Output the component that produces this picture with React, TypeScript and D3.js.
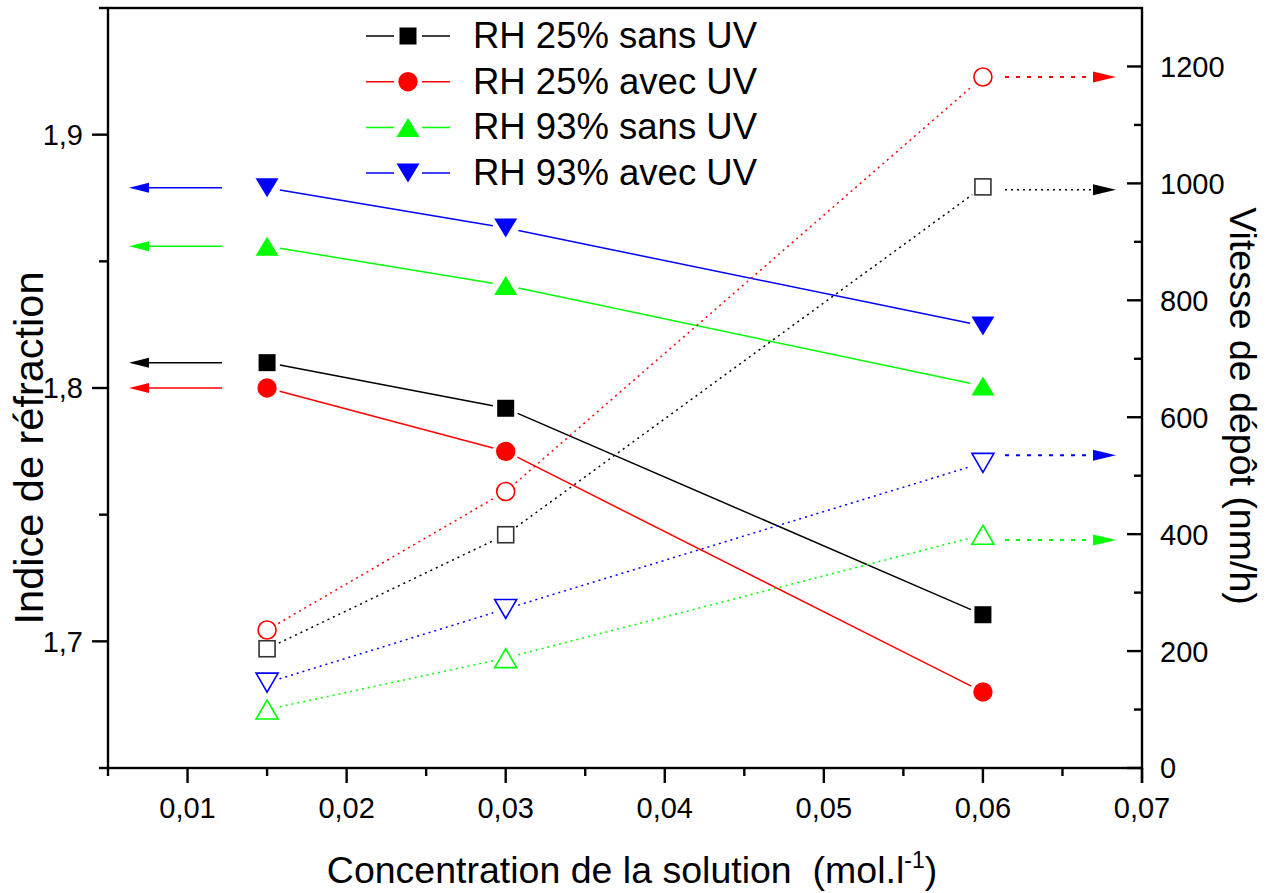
import React from "react";
import * as d3 from "d3";

const concentrations = [0.015, 0.03, 0.06];
const seriesNames = ["RH 25% sans UV", "RH 25% avec UV", "RH 93% sans UV", "RH 93% avec UV"];
const seriesColors = ["#000000", "#ff0000", "#00ff00", "#0000ff"];
const seriesShapes = ["square", "circle", "triangleUp", "triangleDown"];
// Indice de réfraction (filled markers, left axis)
const refractiveIndex = [
  [1.81, 1.792, 1.7105],
  [1.8, 1.775, 1.68],
  [1.856, 1.8405, 1.8008],
  [1.879, 1.8632, 1.8245],
];
// Vitesse de dépôt (open markers, right axis)
const depositionRate = [
  [204, 399, 994],
  [236, 473, 1182],
  [100, 188, 399],
  [146, 272, 522],
];
const rightArrowLevels = [989, 1182, 390, 535];
const rightArrowDash = ["2,4", "4,7", "4,7", "4,7"];

const xTicks = [0.01, 0.02, 0.03, 0.04, 0.05, 0.06, 0.07];
const xTickLabels = ["0,01", "0,02", "0,03", "0,04", "0,05", "0,06", "0,07"];
const xMinor = [0.005, 0.015, 0.025, 0.035, 0.045, 0.055, 0.065];
const leftTicks = [1.7, 1.8, 1.9];
const leftTickLabels = ["1,7", "1,8", "1,9"];
const leftMinor = [1.65, 1.75, 1.85, 1.95];
const rightTicks = [0, 200, 400, 600, 800, 1000, 1200];
const rightTickLabels = ["0", "200", "400", "600", "800", "1000", "1200"];
const rightMinor = [100, 300, 500, 700, 900, 1100];

const FONT = "'Liberation Sans', Arial, sans-serif";

const L = 108, R = 1142, T = 8, B = 768;
const x = d3.scaleLinear().domain([0.005, 0.07]).range([L, R]);
const yL = d3.scaleLinear().domain([1.65, 1.95]).range([B, T]);
const yR = d3.scaleLinear().domain([0, 1300]).range([B, T]);

function Marker({ shape, cx, cy, color, filled }: any) {
  const fill = filled ? color : "#fff";
  const stroke = filled ? "none" : color === "#000000" ? "#333" : color;
  const sw = 1.6;
  if (shape === "square") {
    const s = filled ? 17 : 16;
    return <rect x={cx - s / 2} y={cy - s / 2} width={s} height={s} fill={fill} stroke={stroke} strokeWidth={sw} />;
  }
  if (shape === "circle") {
    return <circle cx={cx} cy={cy} r={filled ? 9.7 : 9} fill={fill} stroke={stroke} strokeWidth={sw} />;
  }
  const hw = filled ? 11.5 : 11, hh = 9.5;
  const pts =
    shape === "triangleUp"
      ? [[cx, cy - hh], [cx + hw, cy + hh], [cx - hw, cy + hh]]
      : [[cx - hw, cy - hh], [cx + hw, cy - hh], [cx, cy + hh]];
  return <polygon points={pts.map((p) => p.join(",")).join(" ")} fill={fill} stroke={stroke} strokeWidth={sw} />;
}

function GappedLine({ pts, color, dash, gap }: any) {
  const segs = [];
  for (let i = 0; i < pts.length - 1; i++) {
    const [x1, y1] = pts[i];
    const [x2, y2] = pts[i + 1];
    const len = Math.hypot(x2 - x1, y2 - y1);
    const ux = (x2 - x1) / len, uy = (y2 - y1) / len;
    segs.push(
      <line key={i} x1={x1 + ux * gap} y1={y1 + uy * gap} x2={x2 - ux * gap} y2={y2 - uy * gap}
        stroke={color} strokeWidth={1.5} strokeDasharray={dash} />
    );
  }
  return <g>{segs}</g>;
}

export default function App() {
  const legendX = 366, legendY0 = 36, legendDy = 45.7;
  return (
    <svg width={1270} height={893} style={{ position: "absolute", left: 0, top: 0, background: "#fff" }}
      fontFamily={FONT}>
      <rect x={0} y={0} width={1270} height={893} fill="#fff" />
      {/* data lines */}
      {refractiveIndex.map((vals, si) => (
        <GappedLine key={"fl" + si} color={seriesColors[si]} gap={13}
          pts={vals.map((v, i) => [x(concentrations[i]), yL(v)])} />
      ))}
      {depositionRate.map((vals, si) => (
        <GappedLine key={"ol" + si} color={seriesColors[si]} gap={13} dash="2,4"
          pts={vals.map((v, i) => [x(concentrations[i]), yR(v)])} />
      ))}
      {/* markers */}
      {refractiveIndex.map((vals, si) =>
        vals.map((v, i) => (
          <Marker key={"fm" + si + i} shape={seriesShapes[si]} cx={x(concentrations[i])} cy={yL(v)}
            color={seriesColors[si]} filled />
        ))
      )}
      {depositionRate.map((vals, si) =>
        vals.map((v, i) => (
          <Marker key={"om" + si + i} shape={seriesShapes[si]} cx={x(concentrations[i])} cy={yR(v)}
            color={seriesColors[si]} filled={false} />
        ))
      )}
      {/* left arrows */}
      {refractiveIndex.map((vals, si) => {
        const yy = yL(vals[0]);
        return (
          <g key={"la" + si}>
            <line x1={222} y1={yy} x2={148} y2={yy} stroke={seriesColors[si]} strokeWidth={1.5} />
            <polygon points={`129,${yy} 149,${yy - 5} 149,${yy + 5}`} fill={seriesColors[si]} />
          </g>
        );
      })}
      {/* right arrows */}
      {depositionRate.map((vals, si) => {
        const yy = yR(rightArrowLevels[si]);
        return (
          <g key={"ra" + si}>
            <line x1={1005} y1={yy} x2={1093} y2={yy} stroke={seriesColors[si]}
              strokeWidth={si === 0 ? 1.5 : 2.2} strokeDasharray={rightArrowDash[si]} />
            <polygon points={`1116,${yy} 1093,${yy - 5.5} 1093,${yy + 5.5}`} fill={seriesColors[si]} />
          </g>
        );
      })}
      {/* frame */}
      <rect x={L} y={T} width={R - L} height={B - T} fill="none" stroke="#000" strokeWidth={2.4} />
      {/* bottom ticks */}
      {xTicks.map((t, i) => (
        <g key={"xt" + i}>
          <line x1={x(t)} x2={x(t)} y1={B} y2={B + 15} stroke="#000" strokeWidth={2.4} />
          <text x={x(t)} y={818} textAnchor="middle" fontSize={29}>{xTickLabels[i]}</text>
        </g>
      ))}
      {xMinor.map((t, i) => (
        <line key={"xm" + i} x1={x(t)} x2={x(t)} y1={B} y2={B + 8} stroke="#000" strokeWidth={2.4} />
      ))}
      {/* left ticks */}
      {leftTicks.map((t, i) => (
        <g key={"lt" + i}>
          <line x1={L} x2={L - 16} y1={yL(t)} y2={yL(t)} stroke="#000" strokeWidth={2.4} />
          <text x={83} y={yL(t)} dy="0.36em" textAnchor="end" fontSize={29}>{leftTickLabels[i]}</text>
        </g>
      ))}
      {leftMinor.map((t, i) => (
        <line key={"lm" + i} x1={L} x2={L - 9} y1={yL(t)} y2={yL(t)} stroke="#000" strokeWidth={2.4} />
      ))}
      {/* right ticks */}
      {rightTicks.map((t, i) => (
        <g key={"rt" + i}>
          <line x1={R} x2={R - 15} y1={yR(t)} y2={yR(t)} stroke="#000" strokeWidth={2.4} />
          <text x={1160} y={yR(t)} dy="0.36em" textAnchor="start" fontSize={29}>{rightTickLabels[i]}</text>
        </g>
      ))}
      {rightMinor.map((t, i) => (
        <line key={"rm" + i} x1={R} x2={R - 8} y1={yR(t)} y2={yR(t)} stroke="#000" strokeWidth={2.4} />
      ))}
      <line x1={R} x2={R} y1={B} y2={B + 15} stroke="#000" strokeWidth={2.4} />
      {/* axis titles */}
      <text x={632} y={883} textAnchor="middle" fontSize={37.5}>
        Concentration de la solution{"\u00a0\u00a0"}(mol.l<tspan dy={-15} fontSize={23}>-1</tspan>
        <tspan dy={15}>)</tspan>
      </text>
      <text transform={`translate(43,448) rotate(-90)`} textAnchor="middle" fontSize={41.5}>Indice de réfraction</text>
      <text transform={`translate(1230,406) rotate(90)`} textAnchor="middle" fontSize={37.5}>Vitesse de dépôt (nm/h)</text>
      {/* legend */}
      {seriesNames.map((name, si) => {
        const cy = legendY0 + si * legendDy;
        return (
          <g key={"lg" + si}>
            <line x1={legendX} x2={legendX + 84} y1={cy} y2={cy} stroke={seriesColors[si]} strokeWidth={1.5} />
            <rect x={legendX + 28} y={cy - 12} width={28} height={24} fill="#fff" />
            <Marker shape={seriesShapes[si]} cx={legendX + 42} cy={cy} color={seriesColors[si]} filled />
            <text x={473} y={cy + 12} fontSize={36.5}>{name}</text>
          </g>
        );
      })}
    </svg>
  );
}
